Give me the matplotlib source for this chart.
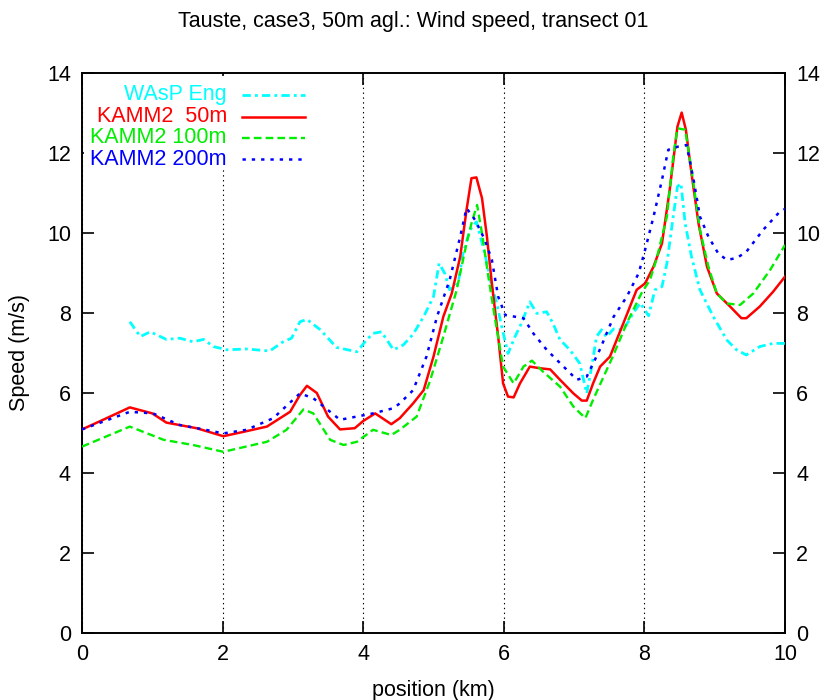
import matplotlib
matplotlib.use("Agg")
import matplotlib.pyplot as plt
from matplotlib.patches import Rectangle
from matplotlib.lines import Line2D

plt.rcParams['font.family'] = ['Liberation Sans', 'DejaVu Sans']
plt.rcParams['lines.scale_dashes'] = False

# ---- data: wind speed along transect 01 ----
wasp_x = [0.68, 0.83, 0.97, 1.20, 1.39, 1.58, 1.73, 1.87, 2.06, 2.34,
          2.67, 2.86, 2.98, 3.10, 3.20, 3.39, 3.62, 3.91, 4.05, 4.14,
          4.26, 4.43, 4.57, 4.71, 4.86, 5.00, 5.08, 5.16, 5.23, 5.35,
          5.42, 5.52, 5.61, 5.73, 5.83, 5.90, 5.97, 6.06, 6.16, 6.25,
          6.37, 6.47, 6.61, 6.70, 6.80, 6.94, 7.08, 7.18, 7.25, 7.32,
          7.39, 7.46, 7.56, 7.70, 7.84, 7.94, 8.06, 8.15, 8.25, 8.32,
          8.41, 8.47, 8.52, 8.58, 8.67, 8.79, 8.98, 9.17, 9.31, 9.45,
          9.64, 9.83, 10.00]
wasp_y = [7.78, 7.41, 7.53, 7.34, 7.37, 7.28, 7.34, 7.16, 7.08, 7.10,
          7.05, 7.28, 7.37, 7.78, 7.84, 7.58, 7.14, 7.03, 7.33, 7.49,
          7.53, 7.08, 7.20, 7.47, 7.91, 8.41, 9.24, 8.99, 8.58, 8.74,
          9.49, 10.08, 10.28, 9.49, 8.66, 8.24, 7.66, 6.99, 7.41, 7.74,
          8.28, 7.99, 8.03, 7.74, 7.33, 7.08, 6.74, 5.99, 6.66, 7.41,
          7.58, 7.40, 7.60, 7.58, 7.99, 8.25, 7.93, 8.58, 8.66, 9.24,
          10.41, 11.16, 11.24, 10.24, 9.41, 8.58, 7.91, 7.33, 7.08, 6.95,
          7.16, 7.24, 7.24]

k50_x = [0.00, 0.30, 0.68, 1.00, 1.20, 1.63, 2.01, 2.30, 2.63, 2.96,
         3.10, 3.20, 3.34, 3.50, 3.67, 3.88, 4.00, 4.17, 4.40, 4.52,
         4.71, 4.86, 5.00, 5.14, 5.26, 5.38, 5.47, 5.54, 5.61, 5.69,
         5.76, 5.83, 5.92, 5.99, 6.06, 6.14, 6.23, 6.37, 6.51, 6.66,
         6.80, 6.99, 7.11, 7.18, 7.27, 7.37, 7.51, 7.70, 7.89, 8.01,
         8.13, 8.25, 8.36, 8.47, 8.53, 8.59, 8.67, 8.77, 8.89, 9.03,
         9.22, 9.38, 9.45, 9.64, 9.83, 10.00]
k50_y = [5.09, 5.33, 5.64, 5.49, 5.26, 5.12, 4.92, 5.03, 5.16, 5.53,
         5.95, 6.18, 6.00, 5.41, 5.09, 5.12, 5.30, 5.49, 5.22, 5.37,
         5.74, 6.07, 6.91, 7.91, 8.49, 9.41, 10.58, 11.37, 11.39, 10.87,
         9.91, 8.74, 7.41, 6.24, 5.91, 5.89, 6.24, 6.66, 6.62, 6.59,
         6.33, 5.99, 5.81, 5.81, 6.24, 6.66, 6.91, 7.74, 8.58, 8.74,
         9.16, 9.74, 11.08, 12.66, 13.01, 12.58, 11.49, 10.24, 9.16, 8.49,
         8.16, 7.87, 7.87, 8.16, 8.53, 8.91]

k100_x = [0.00, 0.68, 1.16, 1.58, 2.01, 2.63, 2.91, 3.15, 3.29, 3.53,
          3.72, 3.91, 4.14, 4.40, 4.52, 4.76, 4.95, 5.14, 5.33, 5.47,
          5.54, 5.62, 5.69, 5.78, 5.87, 5.99, 6.14, 6.28, 6.40, 6.56,
          6.80, 6.99, 7.16, 7.27, 7.42, 7.56, 7.75, 7.96, 8.08, 8.17,
          8.32, 8.41, 8.47, 8.58, 8.67, 8.79, 8.91, 9.03, 9.17, 9.36,
          9.55, 9.79, 10.00]
k100_y = [4.66, 5.16, 4.83, 4.70, 4.53, 4.78, 5.08, 5.59, 5.49, 4.83,
          4.70, 4.78, 5.08, 4.95, 5.08, 5.41, 6.30, 7.41, 8.58, 9.74,
          10.24, 10.70, 9.99, 8.91, 7.91, 6.66, 6.24, 6.66, 6.81, 6.53,
          6.16, 5.66, 5.37, 5.83, 6.41, 6.95, 7.75, 8.50, 8.83, 9.33,
          10.41, 11.91, 12.62, 12.58, 11.58, 10.08, 9.16, 8.49, 8.24, 8.20,
          8.49, 9.08, 9.70]

k200_x = [0.00, 0.68, 1.01, 1.39, 1.73, 2.01, 2.34, 2.72, 3.10, 3.29,
          3.67, 4.14, 4.43, 4.52, 4.71, 4.90, 5.05, 5.23, 5.38, 5.47,
          5.59, 5.73, 5.83, 5.92, 6.02, 6.28, 6.42, 6.61, 6.85, 7.04,
          7.18, 7.37, 7.56, 7.75, 7.92, 8.01, 8.13, 8.25, 8.34, 8.48,
          8.60, 8.70, 8.79, 8.91, 9.05, 9.17, 9.31, 9.45, 9.69, 9.93,
          10.00]
k200_y = [5.09, 5.53, 5.49, 5.20, 5.09, 4.99, 5.08, 5.37, 5.99, 5.87,
          5.33, 5.49, 5.62, 5.74, 6.07, 6.91, 7.91, 8.83, 9.91, 10.62,
          10.33, 9.83, 9.33, 8.41, 7.95, 7.87, 7.49, 7.08, 6.66, 6.33,
          6.41, 7.10, 7.90, 8.41, 9.00, 9.58, 10.41, 11.33, 12.08, 12.16,
          12.20, 11.33, 10.41, 9.91, 9.49, 9.33, 9.37, 9.53, 10.08, 10.54,
          10.60]

labels = ["WAsP Eng", "KAMM2  50m", "KAMM2 100m", "KAMM2 200m"]
x_ticks = [0, 2, 4, 6, 8, 10]
y_ticks = [0, 2, 4, 6, 8, 10, 12, 14]

# ---- styles ----
styles = [
    dict(color="#00ffff", lw=2.0, linestyle=(0, (6, 3, 2, 3))),
    dict(color="#ff0000", lw=1.8, linestyle="-"),
    dict(color="#00ee00", lw=1.7, linestyle=(0, (5.5, 3))),
    dict(color="#0000ff", lw=1.8, linestyle=(0, (2.4, 4.3))),
]
series = [(wasp_x, wasp_y), (k50_x, k50_y), (k100_x, k100_y), (k200_x, k200_y)]

FS = 15.5

fig = plt.figure(figsize=(8.27, 7.0), dpi=100)
ax = fig.add_axes([82 / 827, 67 / 700, 703 / 827, 560 / 700])

for (xs, ys), st in zip(series, styles):
    ax.plot(xs, ys, zorder=3, **st)

ax.set_xlim(0, 10)
ax.set_ylim(0, 14)
ax.set_xticks(x_ticks)
ax.set_yticks(y_ticks)

# vertical dotted grid only
ax.set_axisbelow(True)
ax.grid(axis="x", linestyle=(0, (1, 2.5)), color="black", lw=0.8)
ax.grid(axis="y", visible=False)

ax.tick_params(direction="in", length=8.5, width=1.2, labelsize=FS,
               top=True, right=True, labelright=True, pad=8)
for sp in ax.spines.values():
    sp.set_linewidth(1.4)

ax.set_xlabel("position (km)", fontsize=FS, labelpad=11)
ax.set_ylabel("Speed (m/s)", fontsize=FS, labelpad=12)
fig.text(0.5, 1 - 22 / 700, "Tauste, case3, 50m agl.: Wind speed, transect 01",
         ha="center", va="center", fontsize=FS)

# key in the upper-left corner: right-aligned coloured labels, sample to the right
ax.add_patch(Rectangle((0.003, 0.83), 0.33, 0.165, transform=ax.transAxes,
                       facecolor="white", edgecolor="none", zorder=1))
rows = [0.961, 0.922, 0.884, 0.846]
for lab, st, ry in zip(labels, styles, rows):
    ax.text(0.206, ry, lab, transform=ax.transAxes, ha="right", va="center",
            color=st["color"], fontsize=FS, zorder=4)
    ax.add_line(Line2D([0.228, 0.317], [ry, ry], transform=ax.transAxes,
                       zorder=4, **st))

fig.savefig("out.png", dpi=100)
